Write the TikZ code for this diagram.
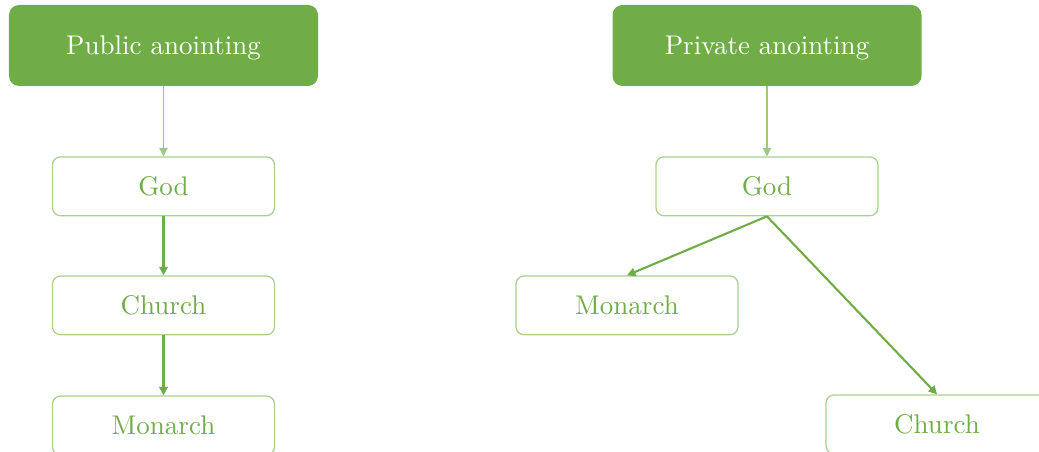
\documentclass[tikz,border=0pt]{standalone}
\usepackage{fontspec}
\usetikzlibrary{positioning,arrows.meta}

\newfontfamily\boxfont{lmroman10-regular}[Extension=.otf]
\definecolor{leaf}{HTML}{70AD47}
\definecolor{leaflight}{HTML}{A9D18E}

\tikzset{
  head/.style={rectangle, rounded corners=0.25cm, fill=leaf, text=white,
    minimum width=7.725cm, minimum height=2.025cm, inner sep=0pt, text depth=0pt,
    font=\boxfont\fontsize{19.2}{23}\selectfont},
  item/.style={rectangle, rounded corners=0.2cm, draw=leaflight, line width=0.9pt,
    fill=white, text=leaf, minimum width=5.55cm, minimum height=1.47cm, inner sep=0pt,
    font=\boxfont\fontsize{19.2}{23}\selectfont},
  link/.style={-{Triangle[length=6pt,width=6pt]}, draw=leaf, line width=1.5pt},
  thinlink/.style={-{Triangle[length=6pt,width=6pt]}, draw=leaflight!80!leaf, line width=0.8pt}
}

\begin{document}
\begin{tikzpicture}

  \useasboundingbox (0,0) rectangle (25.975,-11.3);
  \clip (0,0) rectangle (25.975,-11.3);

  \node[head] (pub) at (4.0875,-1.1375) {Public anointing};
  \node[item, below=1.75cm of pub] (lgod) {God};
  \node[item, below=1.475cm of lgod] (lchurch) {Church};
  \node[item, below=1.5cm of lchurch] (lmon) {Monarch};

  \node[head] (priv) at (19.175,-1.1375) {Private anointing};
  \node[item, below=1.75cm of priv] (rgod) {God};
  \node[item, below=1.475cm of rgod, xshift=-3.5cm] (rmon) {Monarch};
  \node[item, below=4.45cm of rgod, xshift=4.25cm] (rchurch) {Church};

  \draw[thinlink] (pub) -- (lgod); %
  \draw[link] (lgod) -- (lchurch); %
  \draw[link] (lchurch) -- (lmon); %

  \draw[thinlink] (priv) -- (rgod); %
  \draw[link] (rgod.south) -- (rmon.north); %
  \draw[link] (rgod.south) -- (rchurch.north); %

\end{tikzpicture}
\end{document}
